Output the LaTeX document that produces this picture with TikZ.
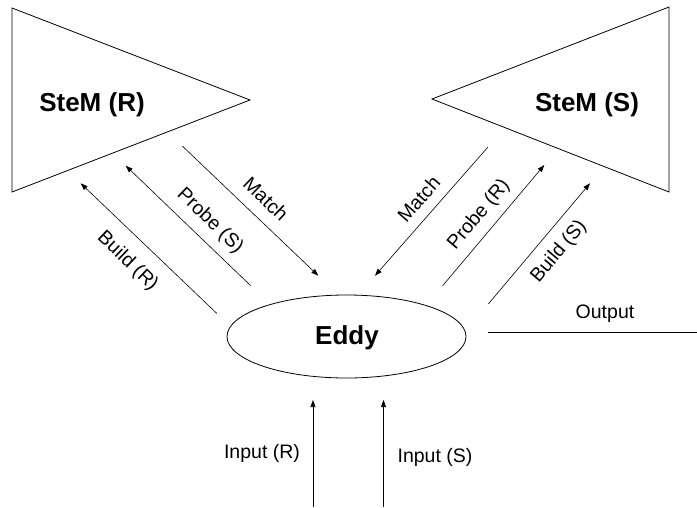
\documentclass[tikz,border=0pt]{standalone}
\usepackage{fontspec}
\setmainfont{Liberation Sans}
\usetikzlibrary{arrows.meta,shapes.geometric}

\tikzset{
  shape line/.style={draw=black, line width=0.8pt},
  flow/.style={draw=black, line width=0.6pt, -{Triangle[length=7pt,width=5pt]}},
  plain flow/.style={draw=black, line width=0.6pt},
  title/.style={font=\fontsize{26}{30}\selectfont\bfseries, inner sep=0pt},
  tag/.style={font=\fontsize{19.5}{23}\selectfont, inner sep=0pt},
}

\begin{document}
\begin{tikzpicture}[x=1pt, y=-1pt]
  \useasboundingbox (0,0) rectangle (697,507);

  % the two SteMs, drawn as wedges pointing at each other
  \coordinate (rtop) at (12,8);
  \coordinate (rtip) at (250,100);
  \coordinate (rbot) at (12,192);
  \coordinate (stop) at (669,7);
  \coordinate (stip) at (432,99);
  \coordinate (sbot) at (669,192);
  \draw[shape line] (rtop) -- (rtip) -- (rbot) -- cycle;
  \draw[shape line] (stop) -- (stip) -- (sbot) -- cycle;
  \node[title] (stemr) at (92,105) {SteM (R)};
  \node[title] (stems) at (587,105) {SteM (S)};

  % the eddy
  \node[shape line, ellipse, minimum width=239pt, minimum height=83pt, inner sep=0pt]
    (eddy) at (346.5,336.5) {};
  \node[title] (eddylabel) at (347,338) {Eddy};

  % connector end points
  \coordinate (buildR0) at (216.7,313.3);
  \coordinate (buildR1) at (80.7,183.3);
  \coordinate (probeS0) at (250.7,285.7);
  \coordinate (probeS1) at (125.7,165.7);
  \coordinate (matchL0) at (182.3,146);
  \coordinate (matchL1) at (318.3,275.7);
  \coordinate (matchR0) at (488,147);
  \coordinate (matchR1) at (375,275.7);
  \coordinate (probeR0) at (442.7,285.7);
  \coordinate (probeR1) at (544.3,165);
  \coordinate (buildS0) at (488.3,304);
  \coordinate (buildS1) at (590,183.3);
  \coordinate (out0) at (488,332);
  \coordinate (out1) at (697,332);
  \coordinate (inR0) at (313,507);
  \coordinate (inR1) at (313,400);
  \coordinate (inS0) at (383.5,507);
  \coordinate (inS1) at (383.5,400);

  % connectors
  \draw[flow] (buildR0) -- (buildR1);
  \draw[flow] (probeS0) -- (probeS1);
  \draw[flow] (matchL0) -- (matchL1);
  \draw[flow] (matchR0) -- (matchR1);
  \draw[flow] (probeR0) -- (probeR1);
  \draw[flow] (buildS0) -- (buildS1);
  \draw[plain flow] (out0) -- (out1);
  \draw[flow] (inR0) -- (inR1);
  \draw[flow] (inS0) -- (inS1);

  % connector labels
  \node[tag, rotate=-43.7] (lbuildR) at (127.5,261.5) {Build (R)};
  \node[tag, rotate=-43.8] (lprobeS) at (210,221) {Probe (S)};
  \node[tag, rotate=-43.7] (lmatchL) at (266,199) {Match};
  \node[tag, rotate=48.8] (lmatchR) at (418.7,199) {Match};
  \node[tag, rotate=49.9] (lprobeR) at (479,215) {Probe (R)};
  \node[tag, rotate=49.9] (lbuildS) at (559,251.7) {Build (S)};
  \node[tag] (lout) at (605,314) {Output};
  \node[tag] (linR) at (262,453) {Input (R)};
  \node[tag] (linS) at (435,457) {Input (S)};
\end{tikzpicture}
\end{document}
